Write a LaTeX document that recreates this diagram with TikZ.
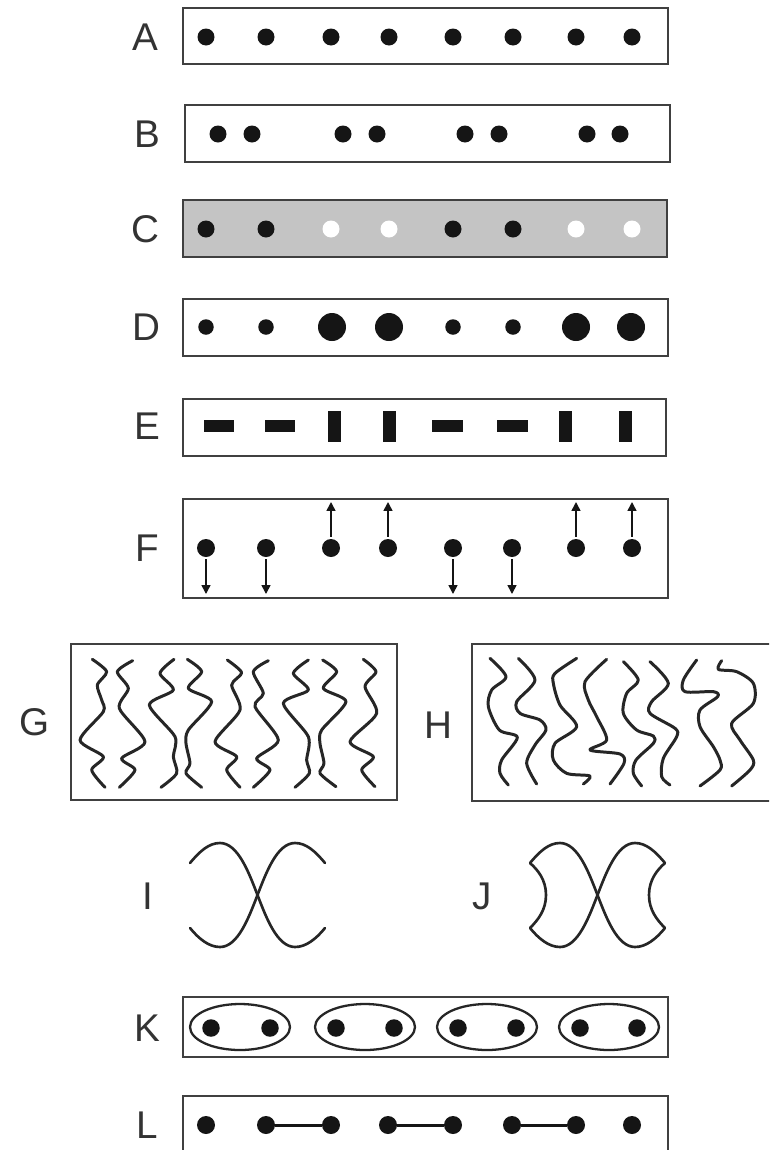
\documentclass[tikz,border=0pt]{standalone}
\usepackage{fontspec}
\setmainfont{Liberation Sans}
\usetikzlibrary{shapes.geometric,arrows.meta}
\definecolor{panelgray}{HTML}{C4C4C4}
\definecolor{ink}{HTML}{151515}
\tikzset{
  panelbox/.style={draw=black!75, line width=1.2pt, inner sep=0pt, rectangle},
  lbl/.style={inner sep=0pt, font=\fontsize{22}{24}\selectfont, text=black!80},
  pdot/.style={circle, fill=ink, inner sep=0pt, minimum size=0.34cm},
  pwdot/.style={circle, fill=white, inner sep=0pt, minimum size=0.34cm},
  hbar/.style={rectangle, fill=ink, inner sep=0pt, minimum width=0.62cm, minimum height=0.25cm},
  vbar/.style={rectangle, fill=ink, inner sep=0pt, minimum width=0.26cm, minimum height=0.62cm},
  farrow/.style={draw=ink, line width=0.9pt, -{Triangle[width=5pt,length=5pt]}, shorten <=1pt},
  wavy/.style={draw=black!85, line width=1.7pt, line cap=round, line join=round},
  xcurve/.style={draw=black!85, line width=1.5pt, line cap=round, line join=round},
  pairring/.style={ellipse, draw=black!85, line width=1.3pt, inner sep=0pt, minimum width=2cm, minimum height=0.92cm},
  link/.style={draw=ink, line width=1.7pt}
}
\begin{document}
\begin{tikzpicture}[x=0.02cm, y=-0.02cm]
\useasboundingbox (0,0) rectangle (769,1150);
\clip (0,0) rectangle (769,1150);
\fill[white] (0,0) rectangle (769,1150);

% ---- A ----
\node[panelbox, minimum width=9.70cm, minimum height=1.12cm] (pA) at (425.5,36) {};
\node[lbl] (labA) at (145,37) {A};
\foreach \x [count=\i] in {206,266,331,389,453,513,576,632}
  \node[pdot] (a\i) at (\x,37) {};

% ---- B ----
\node[panelbox, minimum width=9.70cm, minimum height=1.14cm] (pB) at (427.5,133.5) {};
\node[lbl] (labB) at (147,134) {B};
\foreach \x [count=\i] in {218,252,343,377,465,499,587,620}
  \node[pdot] (b\i) at (\x,134) {};

% ---- C ----
\node[panelbox, fill=panelgray, minimum width=9.68cm, minimum height=1.14cm] (pC) at (425,228.5) {};
\node[lbl] (labC) at (145,229) {C};
\foreach \x/\s [count=\i] in {206/pdot,266/pdot,331/pwdot,389/pwdot,453/pdot,513/pdot,576/pwdot,632/pwdot}
  \node[\s] (c\i) at (\x,229) {};

% ---- D ----
\node[panelbox, minimum width=9.70cm, minimum height=1.14cm] (pD) at (425.5,327.5) {};
\node[lbl] (labD) at (146,327) {D};
\foreach \x/\d [count=\i] in {206/0.31,266/0.31,332/0.56,389/0.56,453/0.31,513/0.31,576/0.56,631/0.56}
  \node[pdot, minimum size=\d cm] (d\i) at (\x,327) {};

% ---- E ----
\node[panelbox, minimum width=9.66cm, minimum height=1.14cm] (pE) at (424.5,427.5) {};
\node[lbl] (labE) at (147,426) {E};
\foreach \x/\s [count=\i] in {219/hbar,280/hbar,334/vbar,389/vbar,447/hbar,512/hbar,565/vbar,625/vbar}
  \node[\s] (e\i) at (\x,426) {};

% ---- F ----
\node[panelbox, minimum width=9.70cm, minimum height=1.98cm] (pF) at (425.5,548.5) {};
\node[lbl] (labF) at (147,548) {F};
\foreach \x/\dir [count=\i] in {206/1,266/1,331/-1,388/-1,453/1,512/1,576/-1,632/-1}{
  \node[pdot, minimum size=0.36cm] (f\i) at (\x,548) {};
  \coordinate (ft\i) at (\x,{548+\dir*46});
  \draw[farrow] (f\i) -- (ft\i);
}

% ---- G ----
\node[panelbox, minimum width=6.52cm, minimum height=3.12cm] (pG) at (234,722) {};
\node[lbl] (labG) at (35,722) {G};
\begin{scope}[shift={(60,630)}, scale=1/3]
\draw[wavy] plot[smooth, tension=0.45] coordinates {(97,88) (140,125) (112,165) (125,210) (130,245) (60,330) (130,380) (95,420) (135,472)};
\draw[wavy] plot[smooth, tension=0.45] coordinates {(218,92) (172,125) (205,175) (178,235) (255,335) (185,385) (225,420) (178,472)};
\draw[wavy] plot[smooth, tension=0.45] coordinates {(342,88) (300,130) (340,180) (268,225) (345,320) (340,380) (350,430) (303,472)};
\draw[wavy] plot[smooth, tension=0.45] coordinates {(382,88) (425,125) (385,175) (455,215) (385,300) (378,340) (390,400) (378,430) (425,472)};
\draw[wavy] plot[smooth, tension=0.45] coordinates {(502,90) (545,128) (515,165) (540,240) (465,335) (530,380) (500,420) (540,472)};
\draw[wavy] plot[smooth, tension=0.45] coordinates {(625,92) (580,125) (610,190) (585,230) (655,330) (590,385) (630,420) (580,472)};
\draw[wavy] plot[smooth, tension=0.45] coordinates {(745,90) (700,130) (745,180) (670,220) (745,320) (740,390) (748,430) (705,472)};
\draw[wavy] plot[smooth, tension=0.45] coordinates {(788,90) (830,125) (790,175) (858,215) (785,300) (780,340) (792,400) (780,430) (828,470)};
\draw[wavy] plot[smooth, tension=0.45] coordinates {(910,88) (948,125) (915,170) (950,250) (870,335) (940,380) (905,420) (945,470)};
\end{scope}

% ---- H ----
\node[panelbox, minimum width=6.16cm, minimum height=3.14cm] (pH) at (626,722.5) {};
\node[lbl] (labH) at (438,725) {H};
\begin{scope}[shift={(420,630)}, scale=1/3]
\draw[wavy] plot[smooth, tension=0.5] coordinates {(210,85) (258,140) (215,180) (205,230) (238,300) (292,322) (245,390) (240,430) (265,465)};
\draw[wavy] plot[smooth, tension=0.5] coordinates {(295,85) (345,150) (290,215) (300,250) (360,270) (378,300) (345,345) (320,400) (350,462)};
\draw[wavy] plot[smooth, tension=0.5] coordinates {(470,85) (405,130) (400,160) (420,225) (470,290) (405,340) (400,390) (440,430) (510,438) (490,462)};
\draw[wavy] plot[smooth, tension=0.5] coordinates {(560,88) (495,155) (505,210) (530,260) (560,330) (510,360) (600,372) (612,400) (570,462)};
\draw[wavy] plot[smooth, tension=0.5] coordinates {(610,95) (655,150) (620,190) (610,250) (650,300) (700,318) (700,340) (648,390) (640,430) (665,468)};
\draw[wavy] plot[smooth, tension=0.5] coordinates {(690,95) (745,160) (695,215) (690,250) (765,295) (770,320) (730,385) (725,440) (750,465)};
\draw[wavy] plot[smooth, tension=0.5] coordinates {(830,90) (790,150) (795,185) (880,185) (893,200) (840,240) (840,290) (880,350) (900,390) (900,420) (840,468)};
\draw[wavy] plot[smooth, tension=0.5] coordinates {(905,92) (895,118) (950,125) (1000,160) (1000,220) (935,280) (960,330) (1000,390) (990,420) (935,468)};
\end{scope}

% ---- I ----
\node[lbl] (labI) at (148,896) {I};
\draw[xcurve] (190,863) .. controls (200,851) and (209,843) .. (220,843)
  .. controls (238,843) and (249,873) .. (257.5,895)
  .. controls (266,917) and (277,947) .. (295,947)
  .. controls (306,947) and (316,939) .. (325,928);
\draw[xcurve] (325,863) .. controls (315,851) and (306,843) .. (295,843)
  .. controls (277,843) and (266,873) .. (257.5,895)
  .. controls (249,917) and (238,947) .. (220,947)
  .. controls (209,947) and (199,939) .. (190,928);

% ---- J ----
\node[lbl] (labJ) at (482,896) {J};
\begin{scope}[shift={(340,0)}]
\draw[xcurve] (190,863) .. controls (200,851) and (209,843) .. (220,843)
  .. controls (238,843) and (249,873) .. (257.5,895)
  .. controls (266,917) and (277,947) .. (295,947)
  .. controls (306,947) and (316,939) .. (325,928);
\draw[xcurve] (325,863) .. controls (315,851) and (306,843) .. (295,843)
  .. controls (277,843) and (266,873) .. (257.5,895)
  .. controls (249,917) and (238,947) .. (220,947)
  .. controls (209,947) and (199,939) .. (190,928);
\draw[xcurve] (190,863) .. controls (198,870) and (206,880) .. (206,895)
  .. controls (206,910) and (198,920) .. (190,928);
\draw[xcurve] (325,863) .. controls (317,870) and (309,880) .. (309,895)
  .. controls (309,910) and (317,920) .. (325,928);
\end{scope}

% ---- K ----
\node[panelbox, minimum width=9.70cm, minimum height=1.20cm] (pK) at (425.5,1027) {};
\node[lbl] (labK) at (147,1028) {K};
\foreach \cx [count=\i] in {240,365,487,609}
  \node[pairring] (ring\i) at (\cx,1027) {};
\foreach \x [count=\i] in {211,270,336,394,458,516,580,637}
  \node[pdot, minimum size=0.35cm] (k\i) at (\x,1028) {};

% ---- L ----
\node[panelbox, minimum width=9.70cm, minimum height=1.28cm] (pL) at (425.5,1128) {};
\node[lbl] (labL) at (147,1125) {L};
\foreach \x [count=\i] in {206,266,331,388,453,512,576,632}
  \node[pdot, minimum size=0.36cm] (l\i) at (\x,1125) {};
\draw[link] (l2) -- (l3);
\draw[link] (l4) -- (l5);
\draw[link] (l6) -- (l7);
\end{tikzpicture}
\end{document}
